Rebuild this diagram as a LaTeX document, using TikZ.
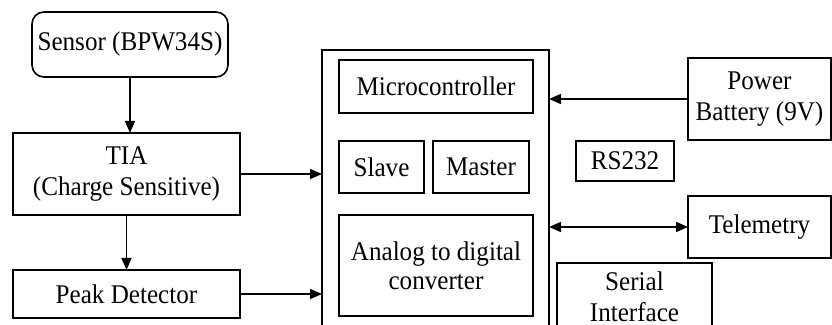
\documentclass[tikz,border=0pt]{standalone}
\usepackage{fontspec}
\setmainfont{Liberation Serif}[FakeStretch=0.93]
\usepackage{xcolor}
\usepackage{tikz}
\usetikzlibrary{positioning, arrows.meta}

\begin{document}
\begin{tikzpicture}[x=0.5pt, y=-0.5pt, line width=0.8pt,
            >={Triangle[length=6pt,width=5pt]},
            block/.style={draw, inner sep=0pt, outer sep=0pt, align=center,
                font=\fontsize{13.5}{15.5}\selectfont}]
            \clip (0,0) rectangle (832,325);
            \node[block, rounded corners=6pt, minimum width=98pt, minimum height=32.5pt] (S) at (130,44.5) {Sensor (BPW34S)};
            \node[block, minimum width=113.5pt, minimum height=41pt] (T) at (126.5,174) {TIA\\(Charge Sensitive)};
            \node[block, minimum width=113.5pt, minimum height=24pt] (P) at (126.5,294) {Peak Detector};
            \node[block, minimum width=113.5pt, minimum height=150pt] (M) at (435.5,200) {};
            \node[block, minimum width=97pt, minimum height=26.5pt] (MC) at (436,86.5) {Microcontroller};
            \node[block, minimum width=42.5pt, minimum height=26pt] (SL) at (381.5,167) {Slave};
            \node[block, minimum width=48pt, minimum height=26pt] (MA) at (481,167) {Master};
            \node[block, minimum width=97pt, minimum height=50.5pt, font=\fontsize{13.5}{14.5}\selectfont] (AD) at (436,265.5) {Analog to digital\\converter};
            \node[block, minimum width=71.5pt, minimum height=41pt] (B) at (759.5,99) {Power\\Battery (9V)};
            \node[block, minimum width=49pt, minimum height=20pt] (R) at (625,161) {RS232};
            \node[block, minimum width=71.5pt, minimum height=31pt] (TM) at (759.5,227) {Telemetry};
            \node[block, minimum width=77.5pt, minimum height=34pt] (SI) at (634.5,297) {Serial\\Interface};
            \draw [->] (S) -- (S |- T.north);
            \draw [->] (T) -- (P);
            \draw [->] (T.east) -- (T.east -| M.west);
            \draw [->] (P.east) -- (P.east -| M.west);
            \draw [->] (B.west) -- (B.west -| M.east);
            \draw [<->] (TM.west) -- (TM.west -| M.east);
        \end{tikzpicture}
\end{document}
